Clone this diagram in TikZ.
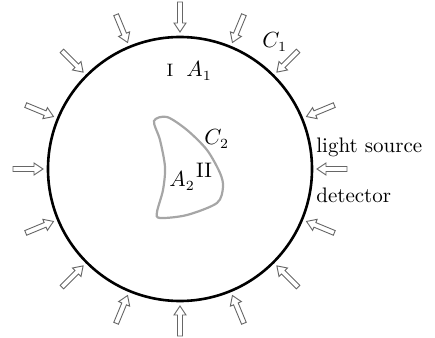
\documentclass[tikz,border=0pt]{standalone}
\begin{document}
\fontsize{10.5}{12}\selectfont
\begin{tikzpicture}[x=0.5pt,y=0.5pt]
  \useasboundingbox (0,0) rectangle (435,338);
  % outer boundary C1
  \coordinate (ctr) at (180,169);
  \draw[line width=1.3pt] (ctr) circle (132);
  \node[anchor=west] (c1) at (255,296) {$C_1$};

  % incoming light, every 22.5 degrees
  \foreach \a in {0,22.5,...,337.5} {
    \begin{scope}[shift={(ctr)},rotate=\a]
      \draw[black!60,line width=0.45pt,line join=miter] (137,0) -- (146,6) -- (146,2.5) -- (167,2.5)
        -- (167,-2.5) -- (146,-2.5) -- (146,-6) -- cycle;
    \end{scope}
  }

  % inner region C2
  \draw[black!35,line width=1.1pt] plot[smooth cycle,tension=0.5] coordinates {
    (154,217) (167,221) (187,208) (207,188) (220,165) (223,151) (217,135)
    (187,123) (160,120) (157,126) (163,148) (165,171) (160,198)};
  \node[anchor=base west,inner sep=0] (c2) at (204,193) {$C_2$};

  % region labels
  \node[anchor=base,inner sep=0,font=\small] (r1) at (170,261) {I};
  \node[anchor=base west,inner sep=0] (a1) at (186,261) {$A_1$};
  \node[anchor=base,inner sep=0] (r2) at (204,160) {II};
  \node[anchor=base west,inner sep=0] (a2) at (169,151) {$A_2$};

  % source / detector
  \node[anchor=base west,inner sep=0] (src) at (316,185) {light source};
  \node[anchor=base west,inner sep=0] (det) at (316,135) {detector};
\end{tikzpicture}
\end{document}
